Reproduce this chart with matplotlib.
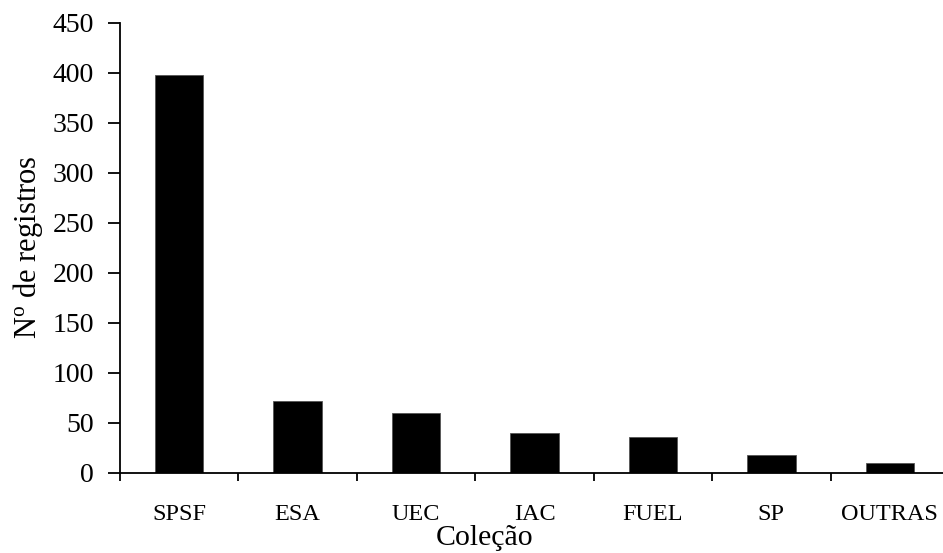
import matplotlib
matplotlib.use("Agg")
import matplotlib.pyplot as plt
import numpy as np

categories = ["SPSF", "ESA", "UEC", "IAC", "FUEL", "SP", "OUTRAS"]
values = [398, 72, 60, 40, 36, 18, 10]
yticks = [0, 50, 100, 150, 200, 250, 300, 350, 400, 450]

plt.rcParams['font.family'] = ['Liberation Serif', 'DejaVu Serif']
plt.rcParams['mathtext.fontset'] = 'custom'
plt.rcParams['mathtext.rm'] = 'Liberation Serif'
plt.rcParams['mathtext.it'] = 'Liberation Serif:italic'

fig = plt.figure(figsize=(9.43, 5.53), dpi=100)
ax = fig.add_axes([120/943, 80.5/553, 829/943, 450/553])

x = np.arange(len(categories))
ax.bar(x, values, width=0.41, color='black', edgecolor='#555555', linewidth=0.6)

ax.set_ylim(0, 450)
ax.set_xlim(-0.5, len(categories) - 0.5)
ax.set_yticks(yticks)
ax.set_yticklabels([str(t) for t in yticks])

ax.set_xticks(np.arange(-0.5, len(categories) - 0.5, 1.0))
ax.set_xticklabels([])
ax.set_xticks(x, minor=True)
ax.set_xticklabels(categories, minor=True)

ax.tick_params(axis='y', which='major', direction='out', length=8.6, width=1.3, pad=10, labelsize=20)
ax.tick_params(axis='x', which='major', direction='out', length=6, width=1.3)
ax.tick_params(axis='x', which='minor', length=0, pad=23, labelsize=17.5)

for s in ['top', 'right']:
    ax.spines[s].set_visible(False)
for s in ['left', 'bottom']:
    ax.spines[s].set_linewidth(1.3)

ax.set_xlabel('Coleção', fontsize=21.5)
ax.xaxis.set_label_coords(0.44, -0.116)
ax.set_ylabel('N$^{\\mathrm{o}}$ de registros', fontsize=22)
ax.yaxis.set_label_coords(-0.09, 0.5)

fig.savefig('out.png', dpi=100)
